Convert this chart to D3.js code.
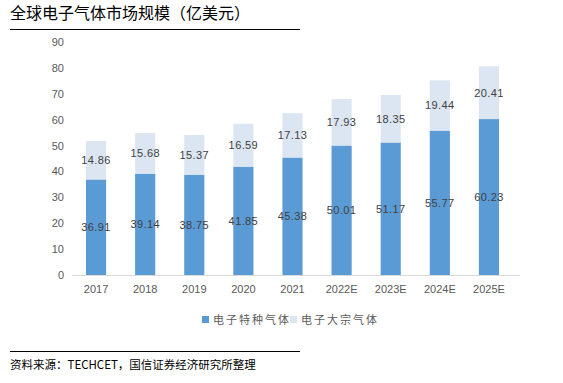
<!DOCTYPE html>
<html><head><meta charset="utf-8">
<script src="https://cdn.jsdelivr.net/npm/d3@7"></script>
<style>body{margin:0;background:#fff;}svg{display:block;}</style>
</head><body>
<script>
const categories = ["2017","2018","2019","2020","2021","2022E","2023E","2024E","2025E"];
const specialGas = [36.91,39.14,38.75,41.85,45.38,50.01,51.17,55.77,60.23];
const bulkGas = [14.86,15.68,15.37,16.59,17.13,17.93,18.35,19.44,20.41];
const seriesNames = ["电子特种气体","电子大宗气体"];
const yTicks = [0,10,20,30,40,50,60,70,80,90];
const colors = ["#5b9bd5","#dce6f2"];

const W=563,H=383;
const svg=d3.select("body").append("svg").attr("width",W).attr("height",H);
const font="'Noto Sans CJK SC','Noto Sans',sans-serif";

// title
svg.append("text").attr("x",10).attr("y",19).text("全球电子气体市场规模（亿美元）")
  .attr("font-family",font).attr("font-size",16).attr("fill","#000");
svg.append("line").attr("x1",10).attr("x2",300).attr("y1",29.5).attr("y2",29.5).attr("stroke","#000").attr("stroke-width",1.2);

const x=d3.scaleBand().domain(categories).range([71.5,513.5]).paddingInner(0.59).paddingOuter(0.295);
const y=d3.scaleLinear().domain([0,90]).range([275,42]);

const data=categories.map((c,i)=>({c,s:specialGas[i],b:bulkGas[i]}));
const stack=d3.stack().keys(["s","b"])(data);

const g=svg.append("g");
stack.forEach((layer,li)=>{
  g.selectAll(null).data(layer).enter().append("rect")
   .attr("x",d=>x(d.data.c)).attr("width",x.bandwidth())
   .attr("y",d=>y(d[1])).attr("height",d=>y(d[0])-y(d[1]))
   .attr("fill",colors[li]);
  g.selectAll(null).data(layer).enter().append("text")
   .attr("x",d=>x(d.data.c)+x.bandwidth()/2).attr("y",d=>(y(d[0])+y(d[1]))/2+4)
   .attr("text-anchor","middle").attr("font-family","'Liberation Sans',Arial,sans-serif").attr("font-size",11)
   .attr("letter-spacing",0.4)
   .attr("fill","#404040").text(d=>(d[1]-d[0]).toFixed(2));
});

// baseline
svg.append("line").attr("x1",72).attr("x2",520).attr("y1",275.5).attr("y2",275.5).attr("stroke","#d9d9d9").attr("stroke-width",1);

// y axis labels
const ya=svg.append("g").attr("transform","translate(64,0)").call(d3.axisLeft(y).tickValues(yTicks).tickSize(0).tickPadding(0));
ya.select(".domain").remove();
ya.selectAll("text").attr("font-family","'Liberation Sans',Arial,sans-serif").attr("font-size",11).attr("fill","#595959");

// x axis labels
const xa=svg.append("g").attr("transform","translate(0,276)").call(d3.axisBottom(x).tickSize(0).tickPadding(9));
xa.select(".domain").remove();
xa.selectAll("text").attr("font-family","'Liberation Sans',Arial,sans-serif").attr("font-size",11).attr("fill","#595959");

// legend
const leg=svg.append("g");
const lx=[202,290];
seriesNames.forEach((n,i)=>{
  leg.append("rect").attr("x",lx[i]).attr("y",316).attr("width",7).attr("height",7).attr("fill",colors[i]);
  leg.append("text").attr("x",lx[i]+11).attr("y",324).text(n).attr("font-family",font).attr("font-size",11).attr("fill","#595959").attr("letter-spacing",2);
});

// footer
svg.append("line").attr("x1",10).attr("x2",300).attr("y1",351.5).attr("y2",351.5).attr("stroke","#000").attr("stroke-width",1);
svg.append("text").attr("x",10).attr("y",369).text("资料来源：TECHCET，国信证券经济研究所整理")
  .attr("font-family",font).attr("font-size",11.5).attr("fill","#000");
</script>
</body></html>
